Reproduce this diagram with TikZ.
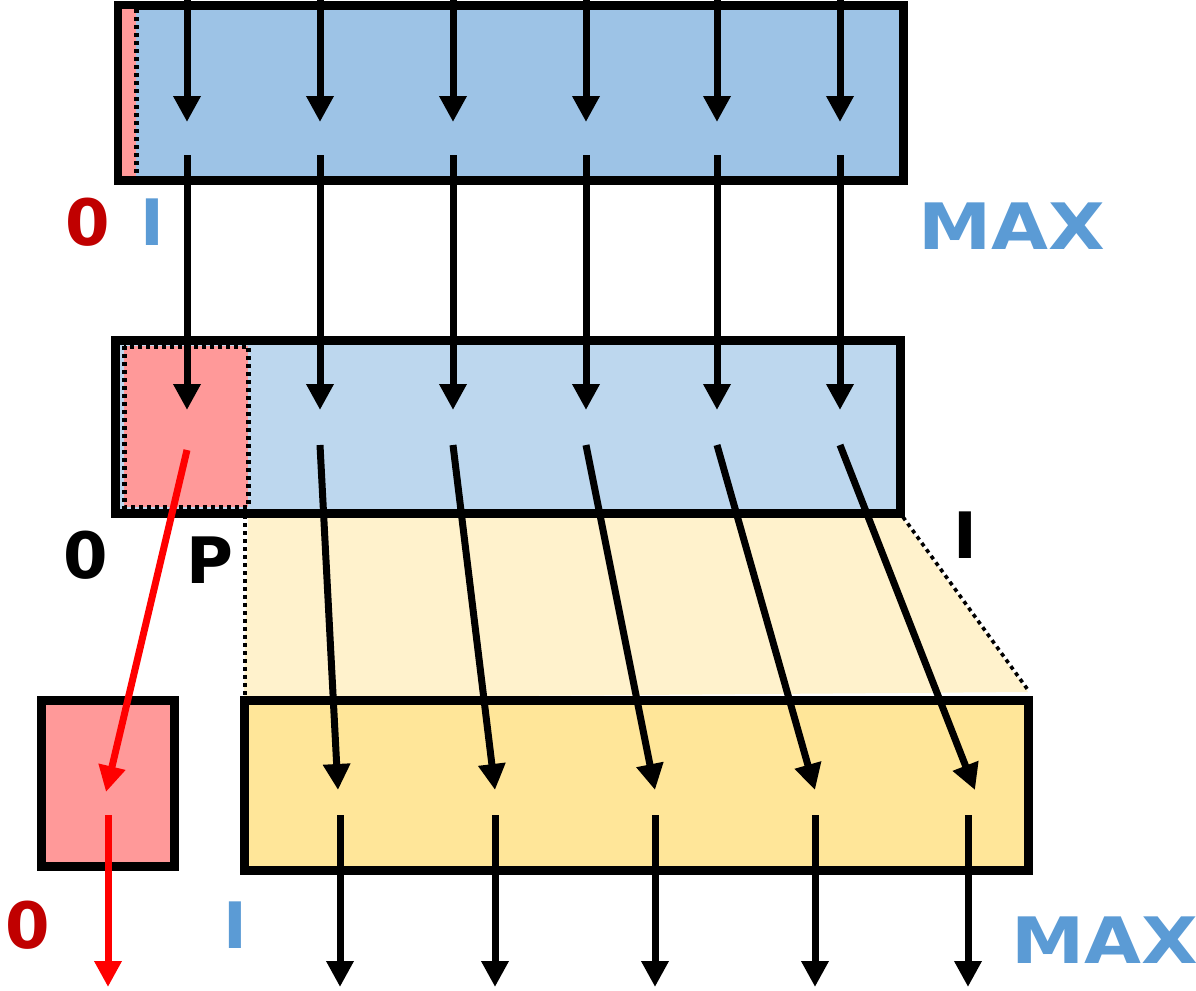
\documentclass[tikz,border=0pt]{standalone}
\usepackage{fontspec}
\setmainfont{DejaVu Sans}
\usetikzlibrary{arrows.meta}
\definecolor{topblue}{HTML}{9DC3E6}
\definecolor{midblue}{HTML}{BDD7EE}
\definecolor{pinkc}{HTML}{FF9999}
\definecolor{yel}{HTML}{FFE699}
\definecolor{lyel}{HTML}{FFF2CC}
\definecolor{lblue}{HTML}{5B9BD5}
\definecolor{dred}{HTML}{C00000}
\tikzset{
 box/.style={draw=black,line width=4.5pt},
 arr/.style={line width=3.5pt,-{Triangle[width=13pt,length=13pt]}},
 lab/.style={font=\bfseries\fontsize{32}{32}\selectfont,inner sep=0},
 widelab/.style={lab,xscale=1.15},
 dotline/.style={draw=black,line width=2.5pt,dash pattern=on 2pt off 2pt}
}
\begin{document}
\begin{tikzpicture}[x=0.5pt,y=-0.5pt]
\useasboundingbox (0,0) rectangle (1196,991);
% trapezoid
\fill[lyel] (248,515) -- (900,515) -- (1028,692) -- (244,698) -- cycle;
\draw[dotline,line width=1.8pt] (245,515) -- (245,698);
\draw[dotline,line width=1.8pt] (903,517) -- (1028,690);
% boxes
\draw[box,fill=topblue] (118,5) rectangle (903,180);
\fill[pinkc] (122,9) rectangle (136,176);
\draw[dotline] (136,9) -- (136,176);
\draw[box,fill=midblue] (115,340) rectangle (900,513);
\fill[pinkc] (124,346) rectangle (248,507);
\draw[dotline] (124,346) rectangle (248,507);
\draw[box,fill=yel] (244,700) rectangle (1028,870);
\draw[box,fill=pinkc] (41,700) rectangle (174,866);
% coordinates
\foreach \x [count=\i] in {187,320,453,586,717,840}{
 \coordinate (t\i) at (\x,0);
 \coordinate (a\i) at (\x,122);
 \coordinate (s\i) at (\x,155);
 \coordinate (b\i) at (\x,410);
 \coordinate (c\i) at (\x,445);
 \draw[arr] (t\i) -- (a\i);
 \draw[arr] (s\i) -- (b\i);
}
\foreach \x [count=\i from 2] in {338,495,655,815,975}{
 \coordinate (d\i) at (\x,790);
 \draw[arr] (c\i) -- (d\i);
}
\foreach \x [count=\i from 2] in {340,495,655,815,968}{
 \coordinate (e\i) at (\x,815);
 \coordinate (f\i) at (\x,987);
 \draw[arr] (e\i) -- (f\i);
}
\coordinate (r1) at (187,450);
\coordinate (r2) at (106,792);
\coordinate (r3) at (108,815);
\coordinate (r4) at (108,987);
\draw[arr,red] (r1) -- (r2);
\draw[arr,red] (r3) -- (r4);
% labels
\node[lab,dred] (l0a) at (88,222) {0};
\node[lab,lblue] (lIa) at (152,222) {I};
\node[widelab,lblue] (lMa) at (1012,226) {MAX};
\node[lab] (l0b) at (86,555) {0};
\node[lab] (lP) at (210,560) {P};
\node[lab] (lIb) at (965,535) {I};
\node[lab,dred] (l0c) at (28,925) {0};
\node[lab,lblue] (lIc) at (235,925) {I};
\node[widelab,lblue] (lMc) at (1105,940) {MAX};
\end{tikzpicture}
\end{document}
